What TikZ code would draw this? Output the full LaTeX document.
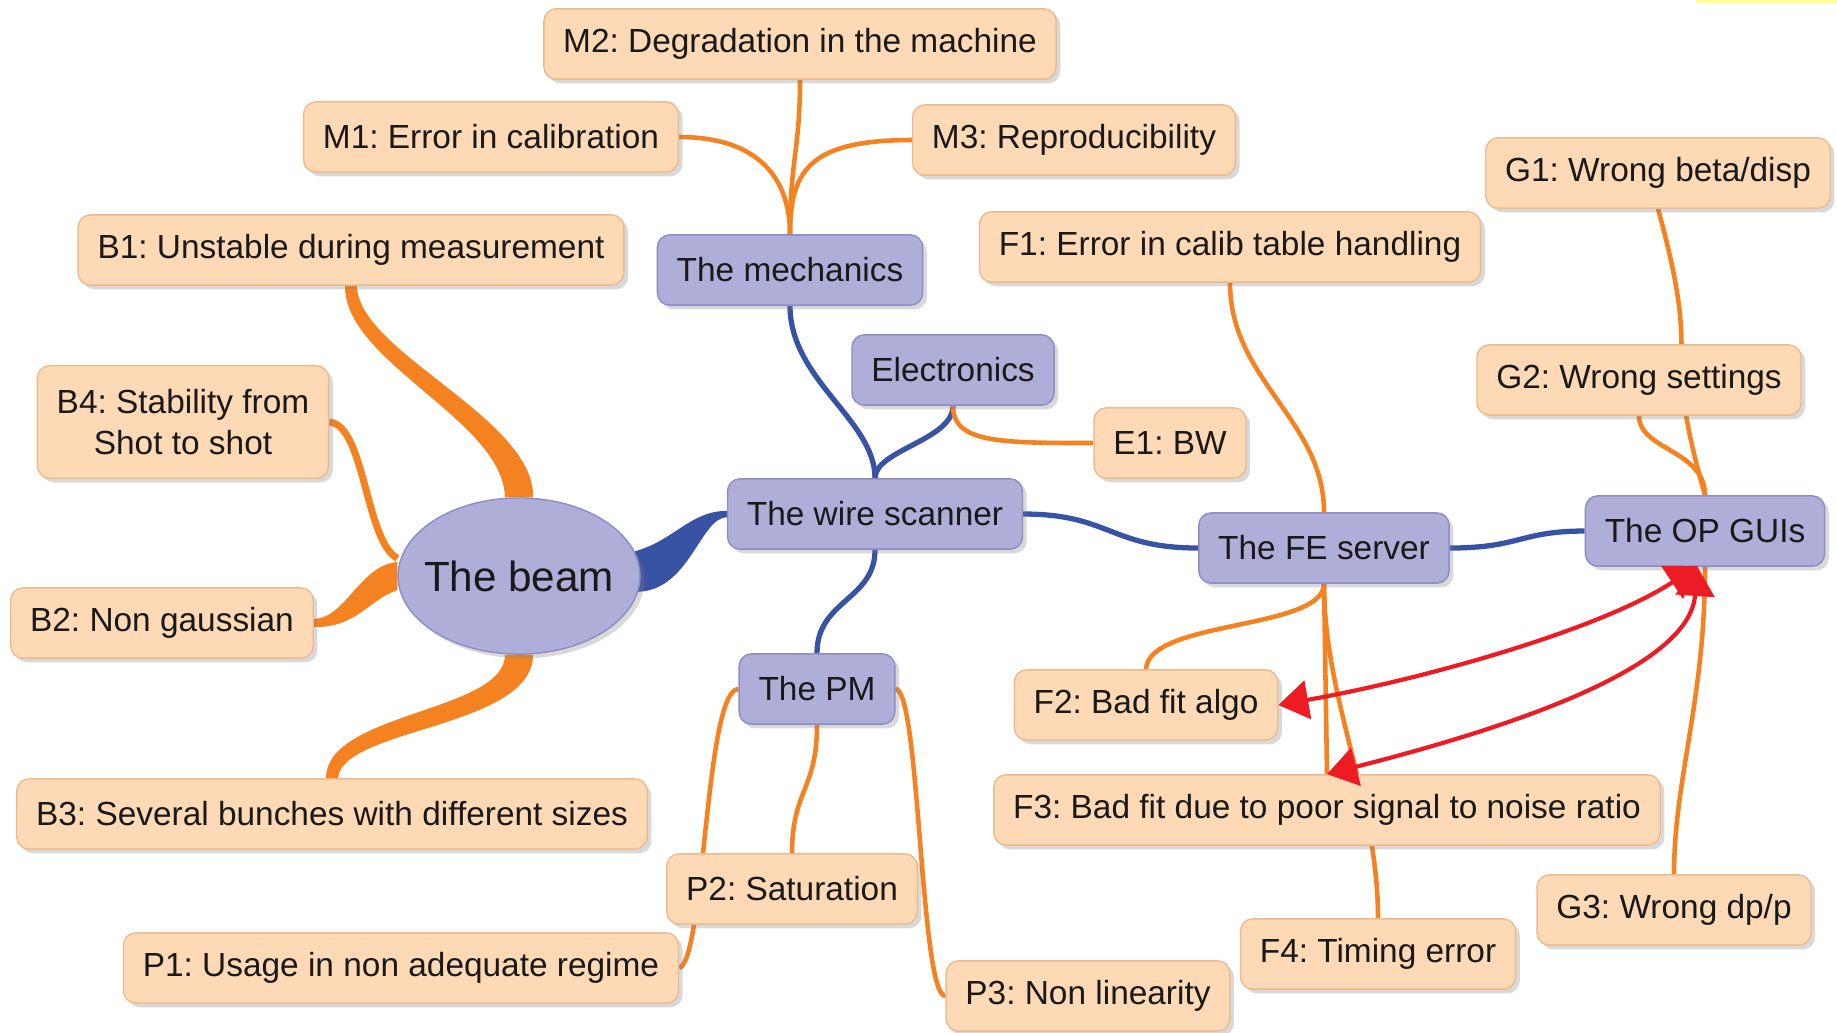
\documentclass[tikz,border=0pt]{standalone}
\usepackage{fontspec}
\setmainfont{Liberation Sans}
\usepackage{tikz}
\usetikzlibrary{positioning, arrows.meta, shapes.geometric, shadows, backgrounds}
\definecolor{peach}{RGB}{253,217,181}
\definecolor{peachLine}{RGB}{236,186,140}
\definecolor{lavender}{RGB}{174,174,216}
\definecolor{lavenderLine}{RGB}{140,140,200}
\definecolor{branchOrange}{RGB}{245,130,32}
\definecolor{branchBlue}{RGB}{56,82,164}
\definecolor{linkRed}{RGB}{237,28,36}
\definecolor{markYellow}{RGB}{255,255,140}
\tikzstyle{causeNode}=[draw=peachLine, fill=peach, rounded corners=3.5pt, minimum height=20pt, inner xsep=5.5pt, text=black!90, font=\fontsize{9.5}{11.7}\selectfont, drop shadow={shadow xshift=1.2pt, shadow yshift=-1.2pt, opacity=0.3}]
\tikzstyle{partNode}=[causeNode, draw=lavenderLine, fill=lavender]
\tikzstyle{orangeBranch}=[draw=branchOrange, line width=1.3pt]
\tikzstyle{blueBranch}=[draw=branchBlue, line width=1.5pt]
\tikzstyle{linkArrow}=[{Triangle[length=8.5pt,width=11pt]}-{Triangle[length=8.5pt,width=11pt]}, draw=linkRed, line width=1.2pt]

\begin{document}
\frenchspacing
\begin{tikzpicture}[x=0.01cm, y=-0.01cm]
    \useasboundingbox (0,0) rectangle (1837,1032);
    \fill[markYellow] (1696,0) rectangle (1837,3);

    % centre and the parts
    \node[ellipse, draw=lavenderLine, fill=lavender, minimum height=44.4pt, inner xsep=-2.7pt, inner ysep=0pt, text=black!90, font=\fontsize{12}{14}\selectfont, drop shadow={shadow xshift=1.2pt, shadow yshift=-1.2pt, opacity=0.3}] (beam) at (519,576) {The beam};
    \node[partNode] (ws) at (875,514) {The wire scanner};
    \node[partNode] (mech) at (790,270) {The mechanics};
    \node[partNode] (elec) at (953,370) {Electronics};
    \node[partNode] (fe) at (1324,548) {The FE server};
    \node[partNode] (op) at (1705,531) {The OP GUIs};
    \node[partNode] (pm) at (817,689) {The PM};

    % causes
    \node[causeNode] (b1) at (351,250) {B1: Unstable during measurement};
    \node[causeNode, align=center, minimum height=32pt] (b4) at (183,422) {B4: Stability from\\Shot to shot};
    \node[causeNode] (b2) at (162,623) {B2: Non gaussian};
    \node[causeNode] (b3) at (332,814) {B3: Several bunches with different sizes};
    \node[causeNode] (m1) at (491,137) {M1: Error in calibration};
    \node[causeNode] (m2) at (800,44) {M2: Degradation in the machine};
    \node[causeNode] (m3) at (1074,140) {M3: Reproducibility};
    \node[causeNode] (e1) at (1170,443) {E1: BW};
    \node[causeNode] (f1) at (1230,247) {F1: Error in calib table handling};
    \node[causeNode] (f2) at (1146,705) {F2: Bad fit algo};
    \node[causeNode] (f3) at (1327,810) {F3: Bad fit due to poor signal to noise ratio};
    \node[causeNode] (f4) at (1378,954) {F4: Timing error};
    \node[causeNode] (g1) at (1658,173) {G1: Wrong beta/disp};
    \node[causeNode] (g2) at (1639,380) {G2: Wrong settings};
    \node[causeNode] (g3) at (1674,910) {G3: Wrong dp/p};
    \node[causeNode] (p1) at (401,968) {P1: Usage in non adequate regime};
    \node[causeNode] (p2) at (792,889) {P2: Saturation};
    \node[causeNode] (p3) at (1088,996) {P3: Non linearity};

    \begin{scope}[on background layer]
        % blue branches
        \fill[branchBlue] ([shift={(-1.7pt,7pt)}]beam.east) .. controls (675,540) and (690,511) .. ([yshift=0.9pt]ws.west)
            -- ([yshift=-0.9pt]ws.west) .. controls (700,518) and (690,590) .. ([shift={(-0.8pt,-4.5pt)}]beam.east) -- cycle;
        \draw[blueBranch] (ws.north) .. controls (875,420) and (790,380) .. (mech.south);
        \draw[blueBranch] (ws.north) .. controls (875,450) and (953,440) .. (elec.south);
        \draw[blueBranch] (ws.east) .. controls (1110,514) and (1110,548) .. (fe.west);
        \draw[blueBranch] (fe.east) .. controls (1520,548) and (1520,531) .. (op.west);
        \draw[blueBranch] (ws.south) .. controls (875,600) and (817,600) .. (pm.north);

        % orange branches of the beam
        \fill[branchOrange] ([xshift=-4pt]beam.north) .. controls (503,420) and (344,362) .. ([xshift=-1.7pt]b1.south)
            -- ([xshift=1.7pt]b1.south) .. controls (358,352) and (535,418) .. ([xshift=4pt]beam.north) -- cycle;
        \draw[orangeBranch, line width=2pt] (b4.east) .. controls (365,425) and (365,540) .. ([yshift=5pt]beam.west);
        \fill[branchOrange] ([yshift=4pt]beam.west) .. controls (360,565) and (345,619) .. ([yshift=1.2pt]b2.east)
            -- ([yshift=-1.2pt]b2.east) .. controls (358,627) and (368,600) .. ([yshift=-4pt]beam.west) -- cycle;
        \fill[branchOrange] ([xshift=-4pt]beam.south) .. controls (505,712) and (326,712) .. ([xshift=-1.7pt]b3.north)
            -- ([xshift=1.7pt]b3.north) .. controls (342,728) and (533,728) .. ([xshift=4pt]beam.south) -- cycle;

        % orange branches of the parts
        \draw[orangeBranch] (mech.north) .. controls (790,180) and (760,137) .. (m1.east);
        \draw[orangeBranch] (mech.north) .. controls (790,160) and (800,150) .. (m2.south);
        \draw[orangeBranch] (mech.north) .. controls (790,170) and (810,140) .. (m3.west);
        \draw[orangeBranch] (elec.south) .. controls (953,443) and (1000,443) .. (e1.west);
        \draw[orangeBranch] (fe.north) .. controls (1324,420) and (1230,380) .. (f1.south);
        \draw[orangeBranch] (fe.south) .. controls (1324,630) and (1148,620) .. (f2.north);
        \draw[orangeBranch] (fe.south) -- (f3.north);
        \draw[orangeBranch] (fe.south) .. controls (1324,700) and (1378,800) .. (f4.north);
        \draw[orangeBranch] (op.north) .. controls (1658,330) and (1705,380) .. (g1.south);
        \draw[orangeBranch] (op.north) .. controls (1705,450) and (1639,450) .. (g2.south);
        \draw[orangeBranch] (op.south) .. controls (1705,700) and (1674,780) .. (g3.north);
        \draw[orangeBranch] (pm.west) .. controls (705,689) and (705,960) .. (p1.east);
        \draw[orangeBranch] (pm.south) .. controls (817,790) and (792,790) .. (p2.north);
        \draw[orangeBranch] (pm.east) .. controls (920,689) and (920,996) .. (p3.west);
    \end{scope}

    % links between the OP GUIs and the fit
    \coordinate (opFoot) at (1697,566);
    \draw[linkArrow] (f2.east) .. controls (1420,680) and (1600,630) .. (opFoot);
    \draw[linkArrow] (f3.north) .. controls (1500,730) and (1690,670) .. (opFoot);
\end{tikzpicture}
\end{document}
